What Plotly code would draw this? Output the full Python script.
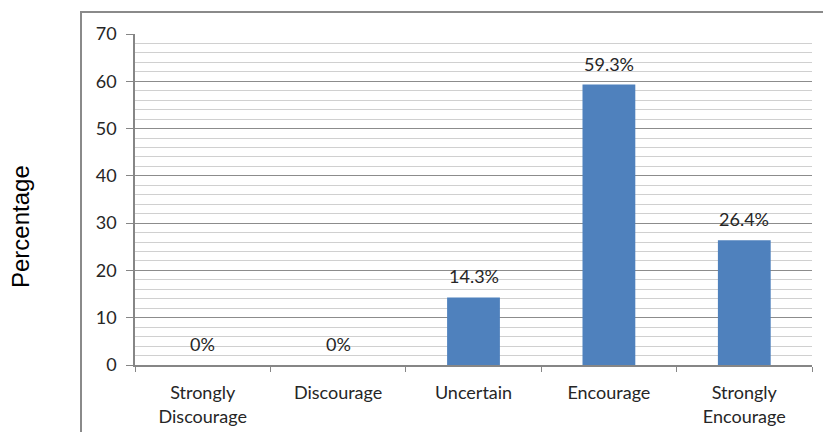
import plotly.graph_objects as go

# Survey responses (percent of respondents)
categories = ["Strongly<br>Discourage", "Discourage", "Uncertain", "Encourage", "Strongly<br>Encourage"]
percentages = [0, 0, 14.3, 59.3, 26.4]
y_ticks = [0, 10, 20, 30, 40, 50, 60, 70]

BAR_COLOR = "#4F81BD"
FONT = "Lato"
FS = 18

W, H = 823, 432
M_L, M_R, M_T, M_B = 135, 11, 34, 67
plot_w = W - M_L - M_R
plot_h = H - M_T - M_B

fig = go.Figure()
fig.add_trace(go.Bar(
    x=categories,
    y=percentages,
    marker=dict(color=BAR_COLOR, line=dict(width=0)),
    width=0.39,
    hoverinfo="x+y",
))

# value labels above each bar
for c, v in zip(categories, percentages):
    fig.add_annotation(
        x=c, y=v, text=f"{v:g}%", showarrow=False,
        yanchor="bottom", yshift=8,
        font=dict(family=FONT, size=FS, color="#262626"),
    )

# outer chart frame
fig.add_shape(
    type="rect", xref="paper", yref="paper",
    x0=(81 - M_L) / plot_w, x1=1.2,
    y0=-0.5, y1=1 + (M_T - 12) / plot_h,
    line=dict(color="#8a8a8a", width=2), fillcolor="rgba(0,0,0,0)",
    layer="below",
)

# axis title sits outside the frame
fig.add_annotation(
    xref="paper", yref="paper",
    x=(21 - M_L) / plot_w, y=(H - M_B - 227) / plot_h,
    xanchor="center", yanchor="middle",
    text="Percentage", textangle=-90, showarrow=False,
    font=dict(family="Liberation Sans, Arial", size=24, color="#000000"),
)

fig.update_layout(
    width=W, height=H,
    margin=dict(l=M_L, r=M_R, t=M_T, b=M_B, pad=0, autoexpand=False),
    paper_bgcolor="white", plot_bgcolor="white",
    showlegend=False,
    bargap=0.61,
    font=dict(family=FONT, size=FS, color="#262626"),
    xaxis=dict(
        type="category",
        automargin=False,
        tickson="boundaries",
        ticks="outside", ticklen=5, tickcolor="#868686", tickwidth=1,
        showline=True, linecolor="#868686", linewidth=1.5,
        showgrid=False,
        ticklabelstandoff=11,
        tickfont=dict(family=FONT, size=FS, color="#262626"),
    ),
    yaxis=dict(
        range=[0, 70],
        automargin=False,
        tickmode="array", tickvals=y_ticks,
        ticks="outside", ticklen=7, tickcolor="#868686",
        showline=True, linecolor="#868686", linewidth=1.5,
        showgrid=True, gridcolor="#8c8c8c", gridwidth=1,
        minor=dict(dtick=2, showgrid=True, gridcolor="#d0d0d0", gridwidth=1, ticks=""),
        zeroline=False,
        ticklabelstandoff=6,
        tickfont=dict(family=FONT, size=FS, color="#262626"),
    ),
)

fig.write_html("out.html")
